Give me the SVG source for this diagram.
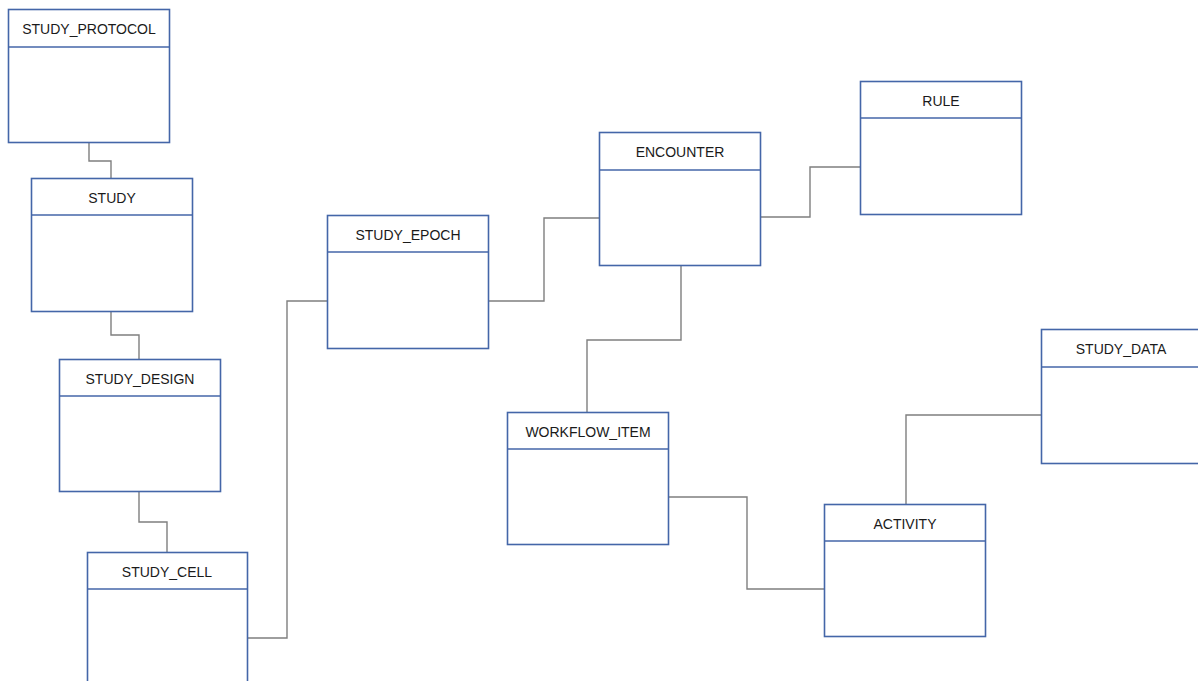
<svg xmlns="http://www.w3.org/2000/svg" width="1198" height="681" viewBox="0 0 1198 681">
<style>
.box{fill:#ffffff;stroke:#4466a8;stroke-width:1.6}
.div{stroke:#4466a8;stroke-width:1.6}
.lbl{font-family:"Liberation Sans",Arial,sans-serif;font-size:14px;fill:#1a1a1a;text-anchor:middle}
.conn{fill:none;stroke:#7f7f7f;stroke-width:1.4}
</style>
<rect width="1198" height="681" fill="#ffffff"/>
<g id="connectors">
<polyline class="conn" points="89,143 89,161 111,161 111,178"/>
<polyline class="conn" points="111,311 111,335 139,335 139,359"/>
<polyline class="conn" points="139,491 139,522 167,522 167,552"/>
<polyline class="conn" points="247,638 287,638 287,301 327,301"/>
<polyline class="conn" points="488,301 544,301 544,218 599,218"/>
<polyline class="conn" points="760,217 810,217 810,167 860,167"/>
<polyline class="conn" points="681,265 681,340 587,340 587,412"/>
<polyline class="conn" points="668,497 747,497 747,589 824,589"/>
<polyline class="conn" points="906,504 906,415 1041,415"/>
</g>
<g id="study_protocol">
<rect class="box" x="8.5" y="9.5" width="161" height="133"/>
<line class="div" x1="8.5" y1="47" x2="169.5" y2="47"/>
<text class="lbl" x="89" y="34">STUDY_PROTOCOL</text>
</g>
<g id="study">
<rect class="box" x="31.5" y="178.5" width="161" height="133"/>
<line class="div" x1="31.5" y1="215" x2="192.5" y2="215"/>
<text class="lbl" x="112" y="203">STUDY</text>
</g>
<g id="study_design">
<rect class="box" x="59.5" y="359.5" width="161" height="132"/>
<line class="div" x1="59.5" y1="396" x2="220.5" y2="396"/>
<text class="lbl" x="140" y="384">STUDY_DESIGN</text>
</g>
<g id="study_cell">
<rect class="box" x="87.5" y="552.5" width="160" height="140"/>
<line class="div" x1="87.5" y1="589" x2="247.5" y2="589"/>
<text class="lbl" x="167" y="577">STUDY_CELL</text>
</g>
<g id="study_epoch">
<rect class="box" x="327.5" y="215.5" width="161" height="133"/>
<line class="div" x1="327.5" y1="252" x2="488.5" y2="252"/>
<text class="lbl" x="408" y="240">STUDY_EPOCH</text>
</g>
<g id="encounter">
<rect class="box" x="599.5" y="132.5" width="161" height="133"/>
<line class="div" x1="599.5" y1="170" x2="760.5" y2="170"/>
<text class="lbl" x="680" y="157">ENCOUNTER</text>
</g>
<g id="rule">
<rect class="box" x="860.5" y="81.5" width="161" height="133"/>
<line class="div" x1="860.5" y1="118" x2="1021.5" y2="118"/>
<text class="lbl" x="941" y="106">RULE</text>
</g>
<g id="workflow_item">
<rect class="box" x="507.5" y="412.5" width="161" height="132"/>
<line class="div" x1="507.5" y1="449" x2="668.5" y2="449"/>
<text class="lbl" x="588" y="437">WORKFLOW_ITEM</text>
</g>
<g id="study_data">
<rect class="box" x="1041.5" y="329.5" width="161" height="134"/>
<line class="div" x1="1041.5" y1="367" x2="1202" y2="367"/>
<text class="lbl" x="1121" y="354">STUDY_DATA</text>
</g>
<g id="activity">
<rect class="box" x="824.5" y="504.5" width="161" height="132"/>
<line class="div" x1="824.5" y1="541" x2="985.5" y2="541"/>
<text class="lbl" x="905" y="529">ACTIVITY</text>
</g>
</svg>
